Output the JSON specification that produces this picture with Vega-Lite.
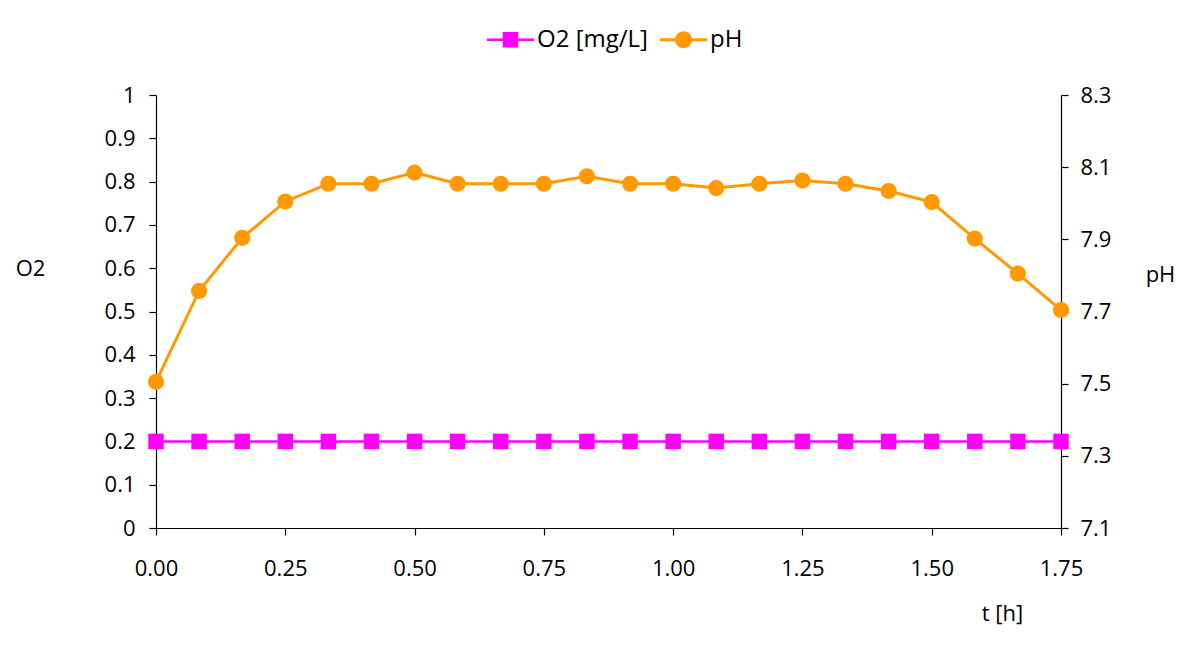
{
  "$schema": "https://vega.github.io/schema/vega-lite/v6.json",
  "width": 905,
  "height": 433,
  "autosize": {"type": "none"},
  "padding": {"left": 156, "top": 95, "right": 117, "bottom": 122},
  "background": "white",
  "config": {
    "view": {"stroke": null},
    "font": "Open Sans",
    "axis": {"grid": false, "domainColor": "black", "tickColor": "black", "labelColor": "black", "titleColor": "black", "labelFont": "Open Sans", "titleFont": "Open Sans", "labelFontSize": 22, "titleFontSize": 22, "titleFontWeight": "normal", "tickSize": 7, "domainWidth": 1.2, "tickWidth": 1.2, "labelFlush": false}
  },
  "data": {
    "values": [
      {"t": 0, "O2": 0.2, "pH": 7.505},
      {"t": 0.0833, "O2": 0.2, "pH": 7.757},
      {"t": 0.1667, "O2": 0.2, "pH": 7.904},
      {"t": 0.25, "O2": 0.2, "pH": 8.005},
      {"t": 0.3333, "O2": 0.2, "pH": 8.054},
      {"t": 0.4167, "O2": 0.2, "pH": 8.054},
      {"t": 0.5, "O2": 0.2, "pH": 8.085},
      {"t": 0.5833, "O2": 0.2, "pH": 8.054},
      {"t": 0.6667, "O2": 0.2, "pH": 8.054},
      {"t": 0.75, "O2": 0.2, "pH": 8.054},
      {"t": 0.8333, "O2": 0.2, "pH": 8.075},
      {"t": 0.9167, "O2": 0.2, "pH": 8.054},
      {"t": 1.0, "O2": 0.2, "pH": 8.054},
      {"t": 1.0833, "O2": 0.2, "pH": 8.042},
      {"t": 1.1667, "O2": 0.2, "pH": 8.054},
      {"t": 1.25, "O2": 0.2, "pH": 8.063},
      {"t": 1.3333, "O2": 0.2, "pH": 8.054},
      {"t": 1.4167, "O2": 0.2, "pH": 8.034},
      {"t": 1.5, "O2": 0.2, "pH": 8.003},
      {"t": 1.5833, "O2": 0.2, "pH": 7.902},
      {"t": 1.6667, "O2": 0.2, "pH": 7.805},
      {"t": 1.75, "O2": 0.2, "pH": 7.704}
    ]
  },
  "encoding": {
    "x": {
      "field": "t", "type": "quantitative",
      "scale": {"domain": [0, 1.75], "nice": false, "zero": false},
      "axis": {"title": "t [h]", "values": [0, 0.25, 0.5, 0.75, 1.0, 1.25, 1.5, 1.75], "format": ".2f", "labelPadding": 23, "labelFlush": false, "titleX": 846, "titleY": 85, "titleAlign": "center", "titleBaseline": "middle"}
    }
  },
  "layer": [
    {
      "encoding": {
        "y": {
          "field": "O2", "type": "quantitative",
          "scale": {"domain": [0, 1], "nice": false},
          "axis": {"title": "O2", "orient": "left", "values": [0, 0.1, 0.2, 0.3, 0.4, 0.5, 0.6, 0.7, 0.8, 0.9, 1], "format": "~g", "labelPadding": 14, "titleAngle": 0, "titleX": -126, "titleY": 173, "titleAlign": "center", "titleBaseline": "middle"}
        },
        "color": {
          "datum": "O2 [mg/L]",
          "type": "nominal",
          "scale": {"domain": ["O2 [mg/L]", "pH"], "range": ["#FF00FF", "#FF9900"]},
          "legend": {
            "title": null,
            "orient": "none",
            "legendX": 331,
            "legendY": -79,
            "direction": "horizontal",
            "labelFont": "Open Sans",
            "labelFontSize": 24,
            "labelColor": "black",
            "labelOffset": 3,
            "columnPadding": 12,
            "symbolSize": 2209,
            "encode": {
              "symbols": {
                "update": {
                  "shape": {"signal": "datum.value === 'pH' ? 'M-1,-0.065H1V0.065H-1Z M0.36,0A0.36,0.36,0,1,1,-0.36,0A0.36,0.36,0,1,1,0.36,0Z' : 'M-1,-0.055H1V0.055H-1Z M-0.33,-0.33H0.33V0.33H-0.33Z'"},
                  "fill": {"signal": "datum.value === 'pH' ? '#FF9900' : '#FF00FF'"},
                  "fillOpacity": {"value": 1},
                  "strokeWidth": {"value": 0},
                  "opacity": {"value": 1}
                }
              }
            }
          }
        }
      },
      "layer": [
        {"mark": {"type": "line", "strokeWidth": 2.5}},
        {"mark": {"type": "point", "shape": "square", "filled": true, "size": 240, "opacity": 1}}
      ]
    },
    {
      "encoding": {
        "y": {
          "field": "pH", "type": "quantitative",
          "scale": {"domain": [7.1, 8.3], "nice": false, "zero": false},
          "axis": {"title": "pH", "orient": "right", "values": [7.1, 7.3, 7.5, 7.7, 7.9, 8.1, 8.3], "format": ".1f", "labelPadding": 12, "titleAngle": 0, "titleX": 99, "titleY": 179, "titleAlign": "center", "titleBaseline": "middle"}
        },
        "color": {"datum": "pH", "type": "nominal"}
      },
      "layer": [
        {"mark": {"type": "line", "strokeWidth": 3}},
        {"mark": {"type": "point", "shape": "circle", "filled": true, "size": 260, "opacity": 1}}
      ]
    }
  ],
  "resolve": {"scale": {"y": "independent"}}
}
